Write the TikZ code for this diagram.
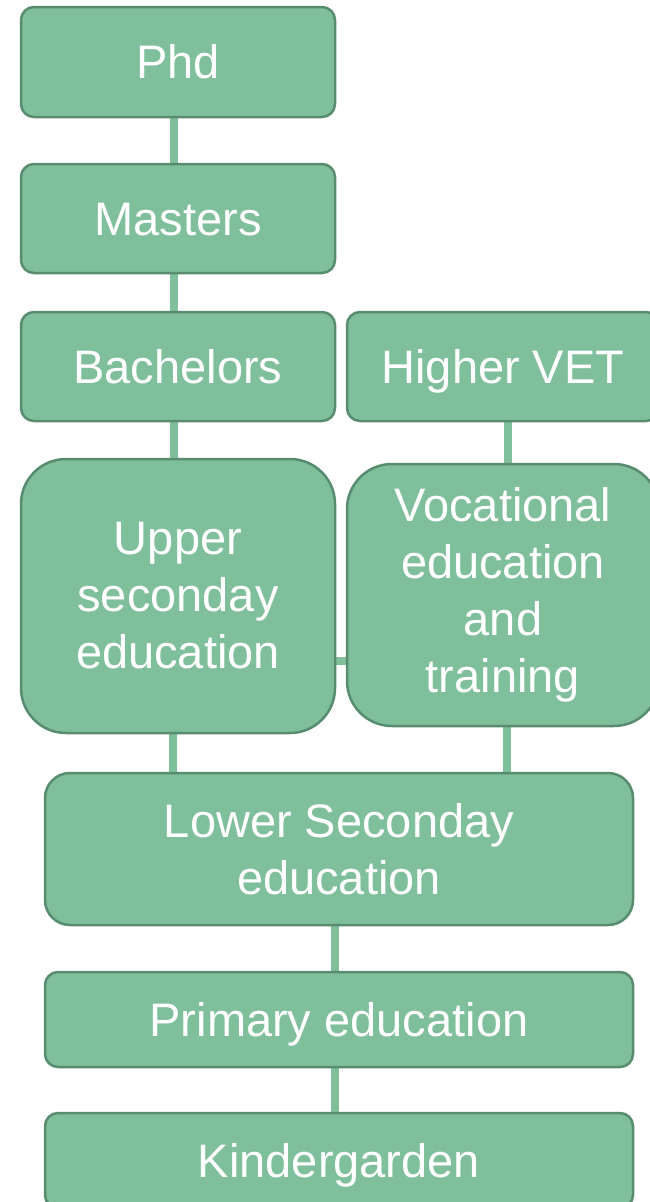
\documentclass[tikz,border=0pt]{standalone}
\usepackage{fontspec}
\setmainfont{Liberation Sans}
\usetikzlibrary{backgrounds}
\definecolor{boxfill}{RGB}{127,191,156}
\definecolor{boxline}{RGB}{88,140,110}
\definecolor{linkc}{RGB}{127,191,156}
\begin{document}
\begin{tikzpicture}[x=1pt,y=-1pt,
  edu/.style={rectangle, draw=boxline, line width=2.5pt, fill=boxfill, text=white,
    rounded corners=13pt, inner sep=0pt, align=center,
    font=\fontsize{47}{57}\selectfont},
  oneline/.style={edu, text height=43.6pt, text depth=10pt},
  bigedu/.style={edu, rounded corners=45pt},
  link/.style={draw=linkc, line width=8pt}]
\useasboundingbox (0,0) rectangle (649,1202);
\node[oneline, minimum width=314pt, minimum height=110pt] (phd) at (178,62) {Phd};
\node[oneline, minimum width=314pt, minimum height=109pt] (masters) at (178,218.5) {Masters};
\node[oneline, minimum width=314pt, minimum height=109pt] (bach) at (178,366.5) {Bachelors};
\node[oneline, minimum width=312pt, minimum height=109pt] (hvet) at (503,366.5) {Higher VET};
\node[bigedu, minimum width=314pt, minimum height=274pt] (upper) at (178,596) {Upper\\seconday\\education};
\node[bigedu, minimum width=312pt, minimum height=262pt] (voc) at (503,595) {Vocational\\education\\and\\training};
\node[edu, rounded corners=25pt, minimum width=588pt, minimum height=152pt] (lower) at (339,849) {Lower Seconday\\education};
\node[oneline, minimum width=588pt, minimum height=95pt] (prim) at (339,1019.5) {Primary education};
\node[oneline, minimum width=588pt, minimum height=95pt] (kind) at (339,1160.5) {Kindergarden};
\begin{scope}[on background layer]
  \draw[link] ([xshift=-4pt]phd.south) -- ([xshift=-4pt]masters.north);
  \draw[link] ([xshift=-4pt]masters.south) -- ([xshift=-4pt]bach.north);
  \draw[link] ([xshift=-4pt]bach.south) -- ([xshift=-4pt]upper.north);
  \draw[link] ([xshift=5pt]hvet.south) -- ([xshift=5pt]voc.north);
  \draw[link] ([yshift=-65pt]upper.east) coordinate (h1) -- (h1 -| voc.west);
  \draw[link] ([xshift=-5pt]upper.south) coordinate (u1) -- (u1 |- lower.north);
  \draw[link] ([xshift=4pt]voc.south) coordinate (v1) -- (v1 |- lower.north);
  \draw[link] ([xshift=-4pt]lower.south) -- ([xshift=-4pt]prim.north);
  \draw[link] ([xshift=-4pt]prim.south) -- ([xshift=-4pt]kind.north);
\end{scope}
\end{tikzpicture}
\end{document}
